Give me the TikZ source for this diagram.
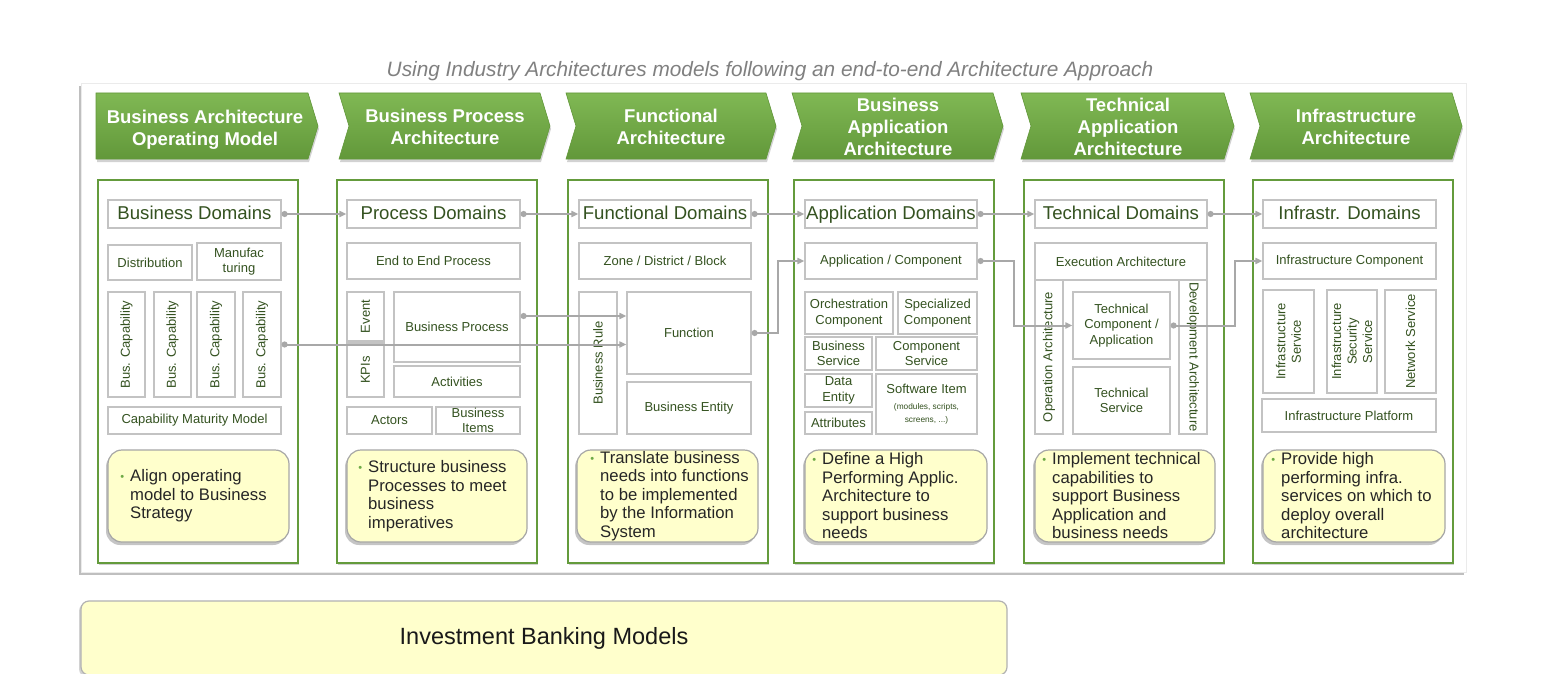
\documentclass[tikz,border=0pt]{standalone}
\usepackage{fontspec}
\setmainfont{Liberation Sans}
\usetikzlibrary{arrows.meta,shadows,calc}
\definecolor{grn}{RGB}{100,155,60}
\definecolor{txtg}{RGB}{52,82,32}
\definecolor{gry}{RGB}{195,195,195}
\definecolor{lin}{RGB}{168,168,168}
\definecolor{yel}{RGB}{255,255,204}
\definecolor{chtop}{RGB}{128,184,84}
\definecolor{chbot}{RGB}{98,152,58}
\definecolor{bulg}{RGB}{110,170,70}
\newcommand\ybul{\makebox[0pt][r]{\textcolor{bulg}{\fontsize{11}{11}\selectfont\raisebox{1pt}{•}}\hspace{6pt}}}
\newcommand\ibx[7][]{\node[ibox,#1,minimum width={(#5-#3)*1pt},minimum height={(#6-#4)*1pt}] (#2) at ({(#3+#5)/2},{(#4+#6)/2}) {#7};}
\newcommand\irbx[7][]{\node[ibox,rotate=90,#1,minimum width={(#6-#4)*1pt},minimum height={(#5-#3)*1pt}] (#2) at ({(#3+#5)/2},{(#4+#6)/2}) {#7};}
\newcommand\ybx[3]{\node[ybox,minimum width={(#3-#2)*1pt},minimum height=92pt] (#1) at ({(#2+#3)/2},496) {};}
\begin{document}
\begin{tikzpicture}[x=1pt,y=-1pt,
  ibox/.style={draw=gry,line width=1.2pt,fill=white,text=txtg,align=center,inner sep=0pt,
    font=\fontsize{13}{15.5}\selectfont},
  dom/.style={font=\fontsize{18.6}{20}\selectfont,text height=13.5pt,text depth=3.5pt},
  colbox/.style={draw=grn,line width=1.8pt,fill=white,anchor=north west,minimum width=200pt,minimum height=383pt,
    drop shadow={shadow xshift=1pt,shadow yshift=-2pt,opacity=.35}},
  chev/.style={top color=chtop,bottom color=chbot,draw=chbot,line width=0.6pt,
    drop shadow={shadow xshift=1pt,shadow yshift=-3pt,opacity=.35}},
  hdr/.style={text=white,font=\bfseries\fontsize{18.5}{22}\selectfont,align=center},
  ybox/.style={draw=black!35,line width=1.2pt,fill=yel,rounded corners=14pt,
    drop shadow={shadow xshift=-2pt,shadow yshift=-3pt,opacity=.45}},
  ytxt/.style={anchor=west,align=left,inner sep=0pt,font=\fontsize{16.7}{18.5}\selectfont,text=black!85},
  conn/.style={draw=lin,line width=2pt,{Circle[length=6pt]}-{Triangle[length=7pt,width=6pt]}}]
\useasboundingbox (0,0) rectangle (1547,674);
\fill[white] (0,0) rectangle (1547,674);
% title
\node[font=\itshape\fontsize{20.8}{24}\selectfont,text=black!50] (title) at (770,71)
  {Using Industry Architectures models following an end-to-end Architecture Approach};
% outer panel
\path[draw=black!8,fill=white,drop shadow={shadow xshift=-2pt,shadow yshift=-3pt,opacity=.5}]
  (81,83) rectangle (1466,572);
% chevrons
\path[chev] (96,93) -- (308,93) -- (318,126) -- (308,159) -- (96,159) -- cycle;
\path[chev] (339,93) -- (540,93) -- (550,126) -- (540,159) -- (339,159) -- (349,126) -- cycle;
\path[chev] (566,93) -- (766,93) -- (776,126) -- (766,159) -- (566,159) -- (576,126) -- cycle;
\path[chev] (792,93) -- (993,93) -- (1003,126) -- (993,159) -- (792,159) -- (802,126) -- cycle;
\path[chev] (1021,93) -- (1224,93) -- (1234,126) -- (1224,159) -- (1021,159) -- (1031,126) -- cycle;
\path[chev] (1250,93) -- (1452,93) -- (1462,126) -- (1452,159) -- (1250,159) -- (1260,126) -- cycle;
\node[hdr] (h1) at (205,130) {Business Architecture\\Operating Model};
\node[hdr] (h2) at (445,127) {Business Process\\Architecture};
\node[hdr] (h3) at (671,127) {Functional\\Architecture};
\node[hdr] (h4) at (898,127) {Business\\Application\\Architecture};
\node[hdr] (h5) at (1128,127) {Technical\\Application\\Architecture};
\node[hdr] (h6) at (1356,127) {Infrastructure\\Architecture};
% columns
\node[colbox] (c1) at (97,179) {};
\node[colbox] (c2) at (336,179) {};
\node[colbox] (c3) at (567,179) {};
\node[colbox] (c4) at (793,179) {};
\node[colbox] (c5) at (1023,179) {};
\node[colbox] (c6) at (1252,179) {};
% column 1
\ibx[dom]{bd}{108}{200}{281}{228}{Business Domains}
\ibx{dist}{108}{245}{192}{280}{Distribution}
\ibx{manu}{197}{243}{281}{280}{Manufac\\turing}
\irbx{bc1}{108}{292}{145}{397}{Bus. Capability}
\irbx{bc2}{154}{292}{191}{397}{Bus. Capability}
\irbx{bc3}{197}{292}{235}{397}{Bus. Capability}
\irbx{bc4}{243}{292}{281}{397}{Bus. Capability}
\ibx{cmm}{108}{407}{281}{434}{Capability Maturity Model}
% column 2
\ibx[dom]{pd}{347}{200}{520}{228}{Process Domains}
\ibx{e2e}{347}{243}{520}{279}{End to End Process}
\irbx{ev}{347}{292}{384}{341}{Event}
\irbx{kpi}{347}{343}{384}{397}{KPIs}
\ibx{bp}{394}{292}{520}{362}{Business Process}
\ibx{act}{394}{366}{520}{397}{Activities}
\ibx{actors}{347}{407}{432}{434}{Actors}
\ibx{bitems}{436}{407}{520}{434}{Business\\Items}
% column 3
\ibx[dom]{fd}{579}{200}{751}{228}{Functional Domains}
\ibx{zone}{579}{243}{751}{279}{Zone / District / Block}
\irbx{brule}{579}{292}{617}{434}{Business Rule}
\ibx{fn}{627}{292}{751}{374}{Function}
\ibx{bent}{627}{382}{751}{434}{Business Entity}
% column 4
\ibx[dom]{ad}{805}{200}{977}{228}{Application Domains}
\ibx{ac}{805}{243}{977}{279}{Application / Component}
\ibx{orch}{805}{292}{893}{334}{Orchestration\\Component}
\ibx{spec}{898}{292}{977}{334}{Specialized\\Component}
\ibx{bsvc}{805}{337}{872}{370}{Business\\Service}
\ibx{csvc}{876}{337}{977}{370}{Component\\Service}
\ibx{dent}{805}{374}{872}{407}{Data\\Entity}
\ibx{attr}{805}{412}{872}{434}{Attributes}
\ibx{swi}{876}{374}{977}{434}{Software Item\\[1pt]{\fontsize{8.3}{9}\selectfont (modules, scripts,}\\[-3pt]{\fontsize{8.3}{9}\selectfont screens, ...)}}
% column 5
\ibx[dom]{td}{1035}{200}{1207}{228}{Technical Domains}
\ibx{exec}{1035}{243}{1207}{280}{Execution Architecture}
\irbx{oper}{1035}{280}{1063}{434}{Operation Architecture}
\irbx[rotate=180]{dev}{1179}{280}{1207}{434}{Development Architecture}
\ibx{tc}{1073}{292}{1170}{359}{Technical\\Component /\\Application}
\ibx{ts}{1073}{367}{1170}{434}{Technical\\Service}
% column 6
\ibx[dom]{ifd}{1263}{200}{1436}{228}{Infrastr. Domains}
\ibx{icomp}{1263}{243}{1436}{279}{Infrastructure Component}
\irbx{isvc}{1263}{290}{1314}{393}{Infrastructure\\Service}
\irbx{isec}{1327}{290}{1377}{393}{Infrastructure\\Security\\Service}
\irbx{net}{1385}{290}{1436}{393}{Network Service}
\ibx{iplat}{1262}{399}{1436}{432}{Infrastructure Platform}
% connectors
\draw[conn] (bd.east) -- (pd.west);
\draw[conn] (pd.east) -- (fd.west);
\draw[conn] (fd.east) -- (ad.west);
\draw[conn] (ad.east) -- (td.west);
\draw[conn] (td.east) -- (ifd.west);
\coordinate (bpo) at ($(bp.east)+(0,-11)$);
\draw[conn] (bpo) -- (fn.west |- bpo);
\draw[conn] (bc4.south) -- (fn.west |- bc4.south);
\draw[conn] (fn.east) -- ++(26,0) |- (ac.west);
\draw[conn] (ac.east) -- ++(36,0) |- (tc.west);
\draw[conn] (tc.east) -- ++(64,0) |- (icomp.west);
% yellow boxes
\ybx{y1}{108}{289}
\ybx{y2}{347}{527}
\ybx{y3}{577}{758}
\ybx{y4}{805}{987}
\ybx{y5}{1035}{1215}
\ybx{y6}{1263}{1445}
\node[ytxt] (t1) at (130,496) {\ybul Align operating\\model to Business\\Strategy};
\node[ytxt] (t2) at (368,496) {\ybul Structure business\\Processes to meet\\business\\imperatives};
\node[ytxt] (t3) at (600,496) {\ybul Translate business\\needs into functions\\to be implemented\\by the Information\\System};
\node[ytxt] (t4) at (822,496) {\ybul Define a High\\Performing Applic.\\Architecture to\\support business\\needs};
\node[ytxt] (t5) at (1052,496) {\ybul Implement technical\\capabilities to\\support Business\\Application and\\business needs};
\node[ytxt] (t6) at (1281,496) {\ybul Provide high\\performing infra.\\services on which to\\deploy overall\\architecture};
% bottom banner
\node[draw=black!30,line width=1.2pt,fill=yel,rounded corners=8pt,minimum width=926pt,minimum height=74pt,
  font=\fontsize{23.5}{26}\selectfont,text=black!90,drop shadow={shadow xshift=-2pt,shadow yshift=-2pt,opacity=.35}]
  (ibm) at (544,638) {Investment Banking Models};
\end{tikzpicture}
\end{document}
